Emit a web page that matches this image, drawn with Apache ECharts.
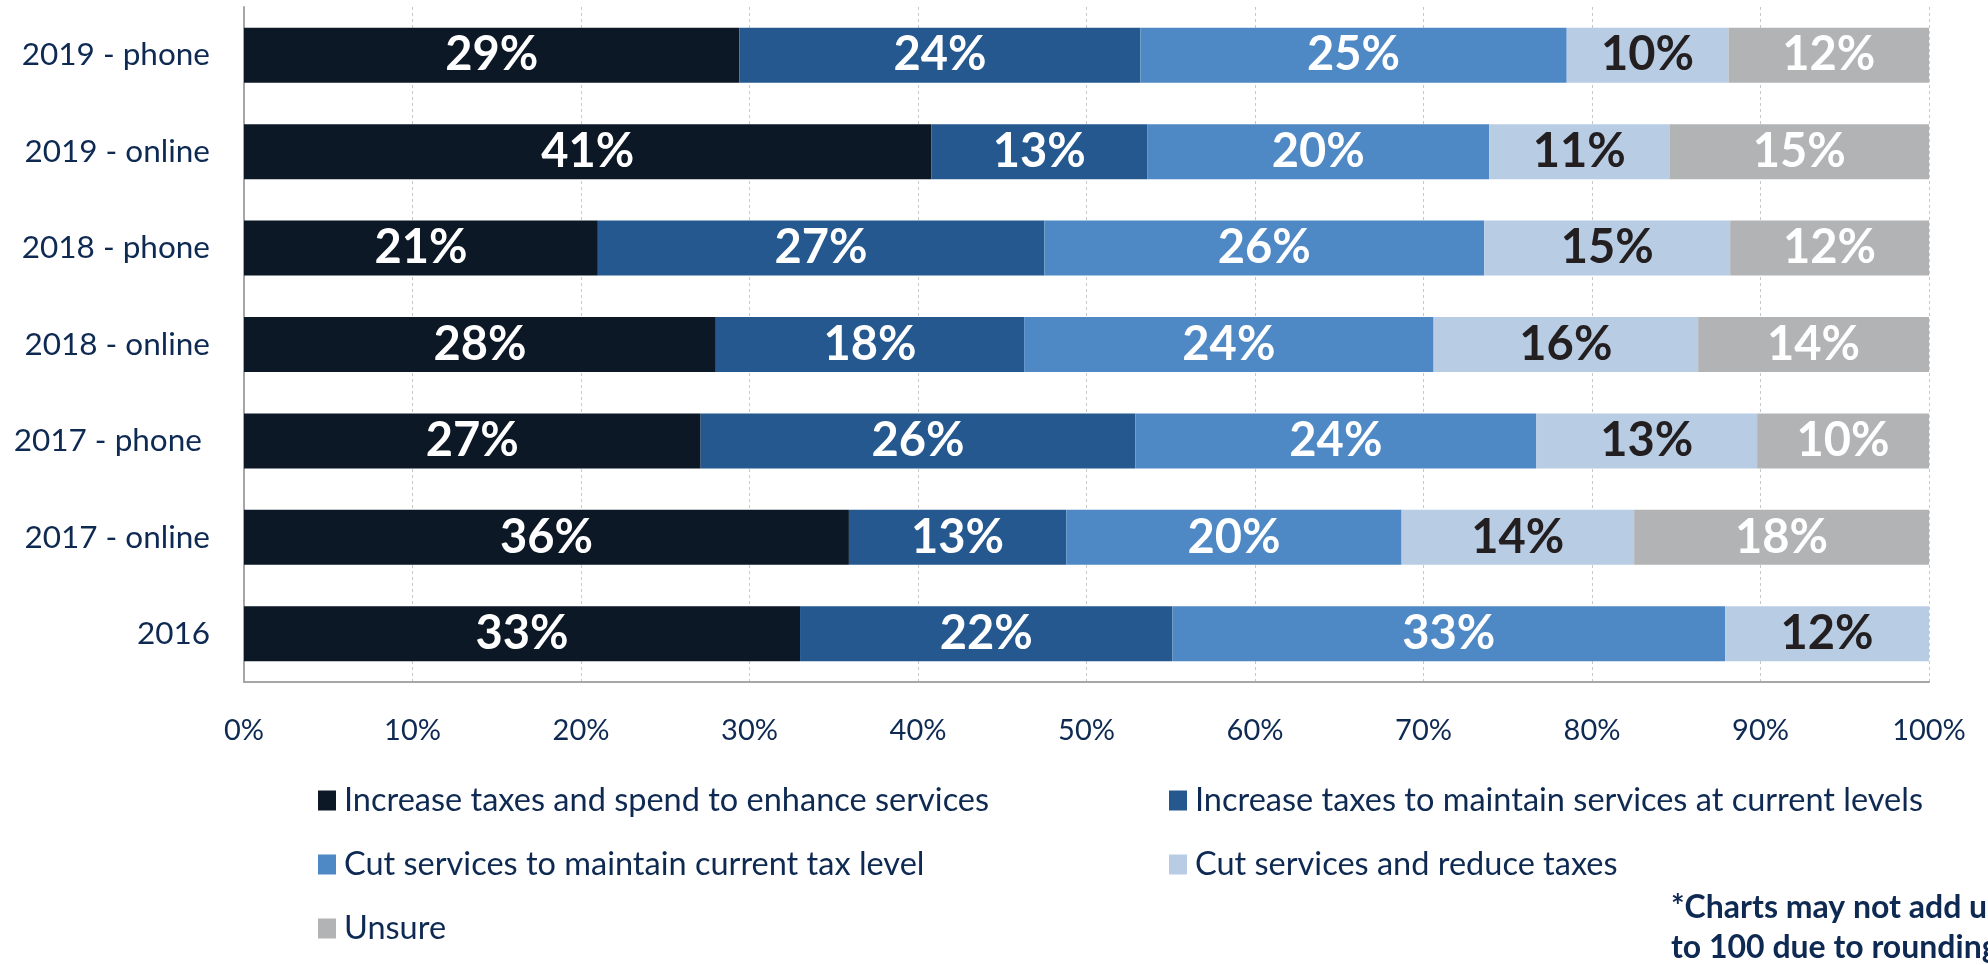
<!DOCTYPE html>
<html>
<head>
<meta charset="utf-8">
<script src="https://cdn.jsdelivr.net/npm/echarts@6/dist/echarts.min.js"></script>
<style>
  html, body { margin: 0; padding: 0; background: #fff; }
  #chart { width: 1988px; height: 965px; }
</style>
</head>
<body>
<div id="chart"></div>
<script>
// categories, top to bottom
var categories = ['2019 - phone', '2019 - online', '2018 - phone', '2018 - online', '2017 - phone ', '2017 - online', '2016'];

// series names
var seriesNames = [
  'Increase taxes and spend to enhance services',
  'Increase taxes to maintain services at current levels',
  'Cut services to maintain current tax level',
  'Cut services and reduce taxes',
  'Unsure'
];

// values (percent)
var enhance  = [29.4, 40.8, 21.0, 28.0, 27.1, 35.9, 33.0];
var maintain = [23.8, 12.8, 26.5, 18.3, 25.8, 12.9, 22.1];
var cutKeep  = [25.3, 20.3, 26.1, 24.3, 23.8, 19.9, 32.8];
var cutReduce = [9.6, 10.7, 14.6, 15.7, 13.1, 13.8, 12.1];
var unsure   = [11.9, 15.4, 11.8, 13.7, 10.2, 17.5, 0];

var xTicks = [0, 10, 20, 30, 40, 50, 60, 70, 80, 90, 100];

var colors = ['#0c1826', '#24588f', '#4e89c6', '#b8cce4', '#b2b3b5'];
var labelColors = ['#ffffff', '#ffffff', '#ffffff', '#231f20', '#ffffff'];
var navy = '#0f2a52';
var font = 'Lato';

var values = [enhance, maintain, cutKeep, cutReduce, unsure];

var series = seriesNames.map(function (name, i) {
  return {
    name: name,
    type: 'bar',
    stack: 'total',
    barWidth: 55,
    itemStyle: { color: colors[i] },
    label: {
      show: true,
      position: 'inside',
      color: labelColors[i],
      fontFamily: font,
      fontWeight: 'bold',
      fontSize: 47,
      formatter: function (p) {
        return p.value > 0 ? Math.round(p.value) + '%' : '';
      }
    },
    emphasis: { disabled: true },
    data: values[i]
  };
});

// one legend block per item so the two-column layout matches
var legendPos = [
  { left: 318, top: 784 },
  { left: 1169, top: 784 },
  { left: 318, top: 848 },
  { left: 1169, top: 848 },
  { left: 318, top: 912 }
];
var legends = seriesNames.map(function (name, i) {
  return {
    data: [name],
    left: legendPos[i].left,
    top: legendPos[i].top,
    padding: 0,
    icon: 'rect',
    itemWidth: 18,
    itemHeight: 20,
    selectedMode: false,
    textStyle: {
      fontFamily: font,
      fontSize: 32.5,
      color: navy,
      lineHeight: 20,
      padding: [0, 0, 0, 3]
    }
  };
});

var option = {
  backgroundColor: '#ffffff',
  animation: false,
  grid: { left: 244, right: 59, top: 7, bottom: 283 },
  legend: legends,
  xAxis: {
    type: 'value',
    min: 0,
    max: 100,
    interval: 10,
    axisLine: { show: true, lineStyle: { color: '#a6a6a6', width: 2 } },
    axisTick: { show: false },
    axisLabel: {
      margin: 34,
      fontFamily: font,
      fontSize: 29,
      color: navy,
      formatter: function (v) { return xTicks.indexOf(v) >= 0 ? v + '%' : ''; }
    },
    splitLine: { show: true, lineStyle: { color: '#c8c8c8', type: [3, 3], width: 1 } }
  },
  yAxis: {
    type: 'category',
    inverse: true,
    data: categories,
    axisLine: { show: true, lineStyle: { color: '#a6a6a6', width: 2 } },
    axisTick: { show: false },
    axisLabel: {
      margin: 34,
      fontFamily: font,
      fontSize: 31.5,
      color: navy
    }
  },
  graphic: [{
    type: 'text',
    left: 1671,
    top: 888,
    style: {
      text: '*Charts may not add up\nto 100 due to rounding',
      fontFamily: font,
      fontWeight: 'bold',
      fontSize: 32,
      lineHeight: 40,
      fill: navy
    }
  }],
  series: series
};

echarts.init(document.getElementById('chart')).setOption(option);
</script>
</body>
</html>
